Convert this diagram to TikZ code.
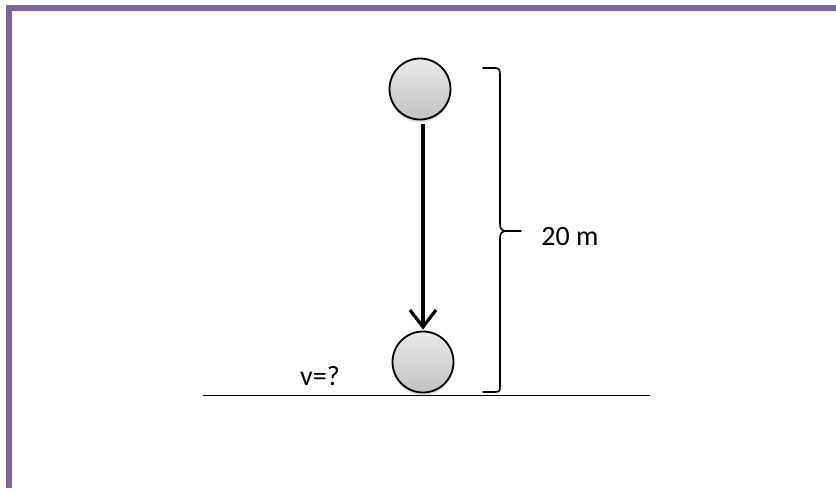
\documentclass[tikz,border=0pt]{standalone}
\usepackage{fontspec}
\setmainfont{Carlito}
\usetikzlibrary{arrows.meta, shadows}
\definecolor{framepurple}{HTML}{8064A2}
\definecolor{balltop}{HTML}{EAEAEA}
\definecolor{ballbottom}{HTML}{C2C2C2}

\begin{document}
\begin{tikzpicture}[
      x=1pt, y=-1pt,
      ball/.style={circle, draw=black, line width=1.8pt, minimum size=61pt, inner sep=0pt, top color=balltop, bottom color=ballbottom, drop shadow={opacity=0.25, shadow xshift=0pt, shadow yshift=-3pt}},
      note/.style={font=\fontsize{28}{32}\selectfont, inner sep=0pt},
      fall/.style={-{Straight Barb[length=17pt, width=26pt]}, line width=3.2pt, shorten <=4pt, shorten >=1pt},
      brace/.style={line width=1.6pt, line cap=round}
    ]
      \useasboundingbox[fill=white] (0,0) rectangle (836,488);
      \draw[framepurple, line width=5.5pt] (8.75,488) -- (8.75,7.75) -- (836,7.75);

      \node[ball] (top) at (420,89) {};
      \node[ball] (bottom) at (423,362) {};

      \node[note] (speed) at (320,376) {v=?};
      \node[note] (height) at (570,237) {20 m};

      \coordinate (groundL) at (203,395.5);
      \coordinate (groundR) at (650,395.5);
      \draw[line width=1.2pt] (groundL) -- (groundR);

      \draw[fall] (top.south -| bottom.north) -- (bottom.north);

      \draw[brace] (483,68) -- (495,68) .. controls (499,68) and (500,70) .. (500,74) -- (500,224)
        .. controls (500,229) and (502,231) .. (507,231) -- (521,231);
      \draw[brace] (507,231) .. controls (502,231) and (500,233) .. (500,238) -- (500,387)
        .. controls (500,391) and (499,392) .. (495,392) -- (483,392);
    \end{tikzpicture}
\end{document}
